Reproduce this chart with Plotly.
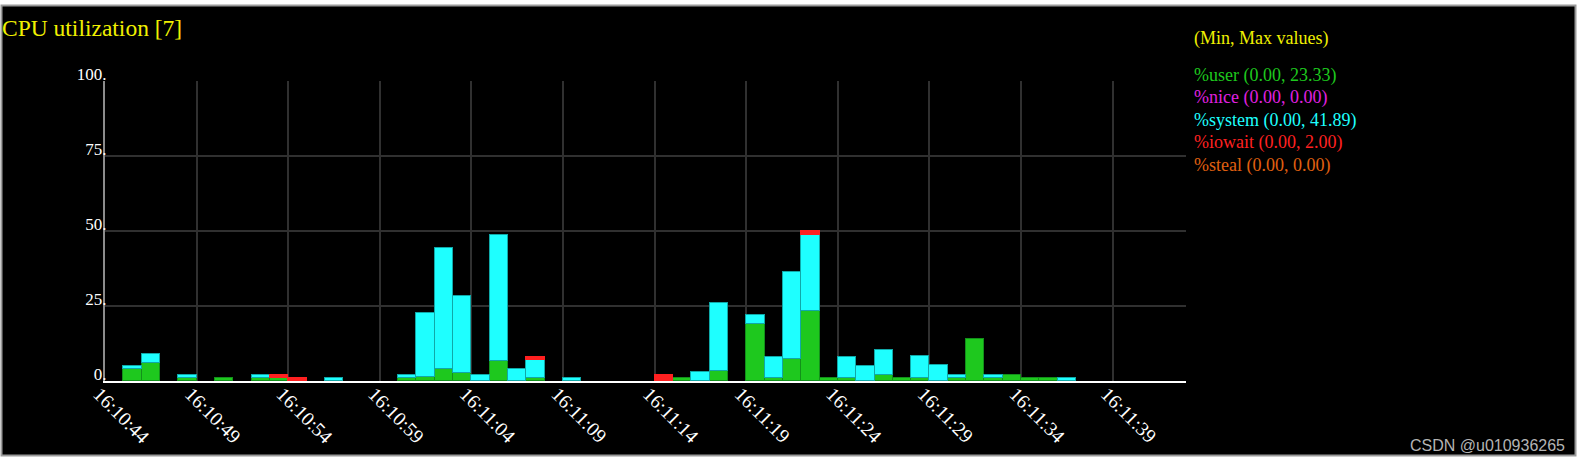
import plotly.graph_objects as go

DATE = "2024-01-01 "
times = ["16:10:44", "16:10:45", "16:10:46", "16:10:47", "16:10:48", "16:10:49", "16:10:50", "16:10:51",
         "16:10:52", "16:10:53", "16:10:54", "16:10:55", "16:10:56", "16:10:57", "16:10:58", "16:10:59",
         "16:11:00", "16:11:01", "16:11:02", "16:11:03", "16:11:04", "16:11:05", "16:11:06", "16:11:07",
         "16:11:08", "16:11:09", "16:11:10", "16:11:11", "16:11:12", "16:11:13", "16:11:14", "16:11:15",
         "16:11:16", "16:11:17", "16:11:18", "16:11:19", "16:11:20", "16:11:21", "16:11:22", "16:11:23",
         "16:11:24", "16:11:25", "16:11:26", "16:11:27", "16:11:28", "16:11:29", "16:11:30", "16:11:31",
         "16:11:32", "16:11:33", "16:11:34", "16:11:35", "16:11:36"]

user = [0, 3.9, 6.0, 0, 0.9, 0, 0.9, 0, 0.9, 0.9, 0, 0, 0, 0, 0, 0,
        0.9, 1.2, 4.0, 2.6, 0, 6.8, 0, 1.0, 0, 0, 0, 0, 0, 0, 0, 0.9,
        0, 3.5, 0, 19.1, 0.9, 7.2, 23.33, 0.9, 0.9, 0, 2.0, 0.9, 1.0, 0, 0.9, 14.0,
        0.9, 1.9, 0.9, 0.9, 0]
nice = [0] * 53
system = [0, 1.1, 3.0, 0, 1.0, 0, 0, 0, 1.0, 0, 0, 0, 0.9, 0, 0, 0,
          1.0, 21.6, 40.5, 25.9, 1.9, 41.89, 4.1, 6.0, 0, 0.9, 0, 0, 0, 0, 0, 0,
          3.0, 22.6, 0, 3.0, 7.1, 29.3, 25.4, 0, 7.1, 5.0, 8.3, 0, 7.5, 5.3, 1.0, 0,
          1.0, 0, 0, 0, 0.9]
iowait = [0, 0, 0, 0, 0, 0, 0, 0, 0, 1.0, 0.9, 0, 0, 0, 0, 0,
          0, 0, 0, 0, 0, 0, 0, 1.1, 0, 0, 0, 0, 0, 0, 2.0, 0,
          0, 0, 0, 0, 0, 0, 1.2, 0, 0, 0, 0, 0, 0, 0, 0, 0,
          0, 0, 0, 0, 0]
steal = [0] * 53

series_names = ["%user", "%nice", "%system", "%iowait", "%steal"]
series_vals = [user, nice, system, iowait, steal]
series_min = ["0.00", "0.00", "0.00", "0.00", "0.00"]
series_max = ["23.33", "0.00", "41.89", "2.00", "0.00"]
fill_colors = ["#1ec81e", "#e020e0", "#1effff", "#ff2020", "#e06010"]
line_colors = ["#12901a", "#a010a0", "#10a8a8", "#ff2020", "#a04008"]
text_colors = ["#1ec81e", "#e020e0", "#1effff", "#ff2020", "#e06010"]

y_ticks = [0, 25, 50, 75, 100]

W, H = 1582, 462
L, R, T, B = 105, 396, 81, 81
PW, PH = W - L - R, H - T - B


def px_x(x):
    return (x - L) / PW


def px_y(y):
    return (H - B - y) / PH


xs = [DATE + t for t in times]
fig = go.Figure()
for name, vals, fc, lc in zip(series_names, series_vals, fill_colors, line_colors):
    fig.add_trace(go.Bar(
        x=xs, y=[v if v else None for v in vals], name=name, width=1000, offset=0,
        marker=dict(color=fc, line=dict(color=lc, width=1)),
        showlegend=False,
    ))

serif = "Liberation Serif, Times New Roman, serif"

annotations = []
annotations.append(dict(xref="paper", yref="paper", x=px_x(0), y=px_y(28), xanchor="left", yanchor="middle",
                        text="CPU utilization [7]", showarrow=False,
                        font=dict(family=serif, size=23.5, color="#f0f000")))
annotations.append(dict(xref="paper", yref="paper", x=px_x(1192), y=px_y(38), xanchor="left", yanchor="middle",
                        text="(Min, Max values)", showarrow=False,
                        font=dict(family=serif, size=18, color="#f0f000")))
for i, (name, mn, mx, tc) in enumerate(zip(series_names, series_min, series_max, text_colors)):
    annotations.append(dict(xref="paper", yref="paper", x=px_x(1192), y=px_y(75 + i * 22.5),
                            xanchor="left", yanchor="middle",
                            text=f"{name} ({mn}, {mx})", showarrow=False,
                            font=dict(family=serif, size=18, color=tc)))
annotations.append(dict(xref="paper", yref="paper", x=px_x(1567), y=px_y(445), xanchor="right", yanchor="middle",
                        text="CSDN @u010936265", showarrow=False,
                        font=dict(family="Liberation Sans, Arial, sans-serif", size=16, color="#b4b4b4")))

shapes = [dict(type="rect", xref="paper", yref="paper", layer="below",
               x0=px_x(1.5), x1=px_x(1575.5), y0=px_y(455.5), y1=px_y(5.5),
               fillcolor="black", line=dict(color="#9a9a9a", width=2))]

fig.update_layout(
    width=W, height=H, autosize=False,
    margin=dict(l=L, r=R, t=T, b=B, pad=0),
    paper_bgcolor="white", plot_bgcolor="black",
    barmode="stack", bargap=0,
    annotations=annotations, shapes=shapes,
    xaxis=dict(
        type="date",
        range=[DATE + "16:10:44", DATE + "16:11:43"],
        tick0=DATE + "16:10:44", dtick=5000, tickformat="%H:%M:%S",
        tickangle=45, ticks="", ticklabelstandoff=-8, ticklabelshift=-6,
        tickfont=dict(family=serif, size=19.5, color="white"),
        showgrid=True, gridcolor="#303030", gridwidth=1.5,
        showline=True, linecolor="white", linewidth=2,
        zeroline=False, fixedrange=True,
    ),
    yaxis=dict(
        range=[0, 100], tickvals=y_ticks, ticktext=[f"{v}." for v in y_ticks],
        ticks="", ticklabelshift=-7, ticklabelstandoff=-7,
        tickfont=dict(family=serif, size=17, color="white"),
        showgrid=True, gridcolor="#303030", gridwidth=1.5,
        showline=True, linecolor="#8c8c8c", linewidth=2,
        zeroline=False, fixedrange=True,
    ),
)

fig.write_html("out.html", config={"displayModeBar": False},
               post_script="document.body.style.margin='0';document.body.style.overflow='hidden';")
